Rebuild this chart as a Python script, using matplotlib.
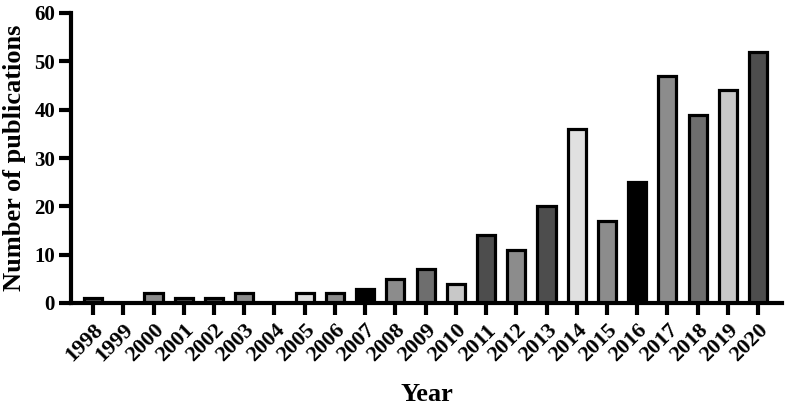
import matplotlib
matplotlib.use("Agg")
import matplotlib.pyplot as plt

years = [str(y) for y in range(1998, 2021)]
counts = [1, 0, 2, 1, 1, 2, 0, 2, 2, 3, 5, 7, 4, 14, 11, 20, 36, 17, 25, 47, 39, 44, 52]
colors = ["#4d4d4d", "#6e6e6e", "#8c8c8c", "#4d4d4d", "#4d4d4d", "#8c8c8c", "#c8c8c8",
          "#e0e0e0", "#8c8c8c", "#000000", "#8c8c8c", "#6e6e6e", "#c8c8c8", "#4d4d4d",
          "#8c8c8c", "#4d4d4d", "#e0e0e0", "#8c8c8c", "#000000", "#8c8c8c", "#6e6e6e",
          "#c8c8c8", "#4d4d4d"]
yticks = [0, 10, 20, 30, 40, 50, 60]

plt.rcParams['font.family'] = ['Liberation Serif', 'DejaVu Serif']
plt.rcParams['font.weight'] = 'bold'

fig = plt.figure(figsize=(7.86, 4.05), dpi=100)
ax = fig.add_axes([71/786, 102/405, 711/786, 290/405])
x = list(range(len(years)))
ax.bar(x, counts, width=0.6, color=colors, edgecolor='black', linewidth=2.3, zorder=3)
ax.set_xlim(-0.73, 22.79)
ax.set_ylim(0, 60)
ax.set_yticks(yticks)
ax.set_xticks(x)
ax.set_xticklabels(years, rotation=45, ha='right', rotation_mode='anchor', fontsize=16, fontweight='bold')
ax.set_yticklabels([str(v) for v in yticks], fontsize=15, fontweight='bold')
for s in ['top', 'right']:
    ax.spines[s].set_visible(False)
for s in ['left', 'bottom']:
    ax.spines[s].set_linewidth(3)
    ax.spines[s].set_zorder(4)
ax.tick_params(axis='both', width=3, length=8.5, direction='out')
ax.tick_params(axis='x', pad=4)
ax.tick_params(axis='y', pad=3)
ax.set_xlabel('Year', fontsize=19, fontweight='bold', labelpad=12)
ax.set_ylabel('Number of publications', fontsize=19, fontweight='bold', labelpad=6)
fig.savefig('out.png', dpi=100)
